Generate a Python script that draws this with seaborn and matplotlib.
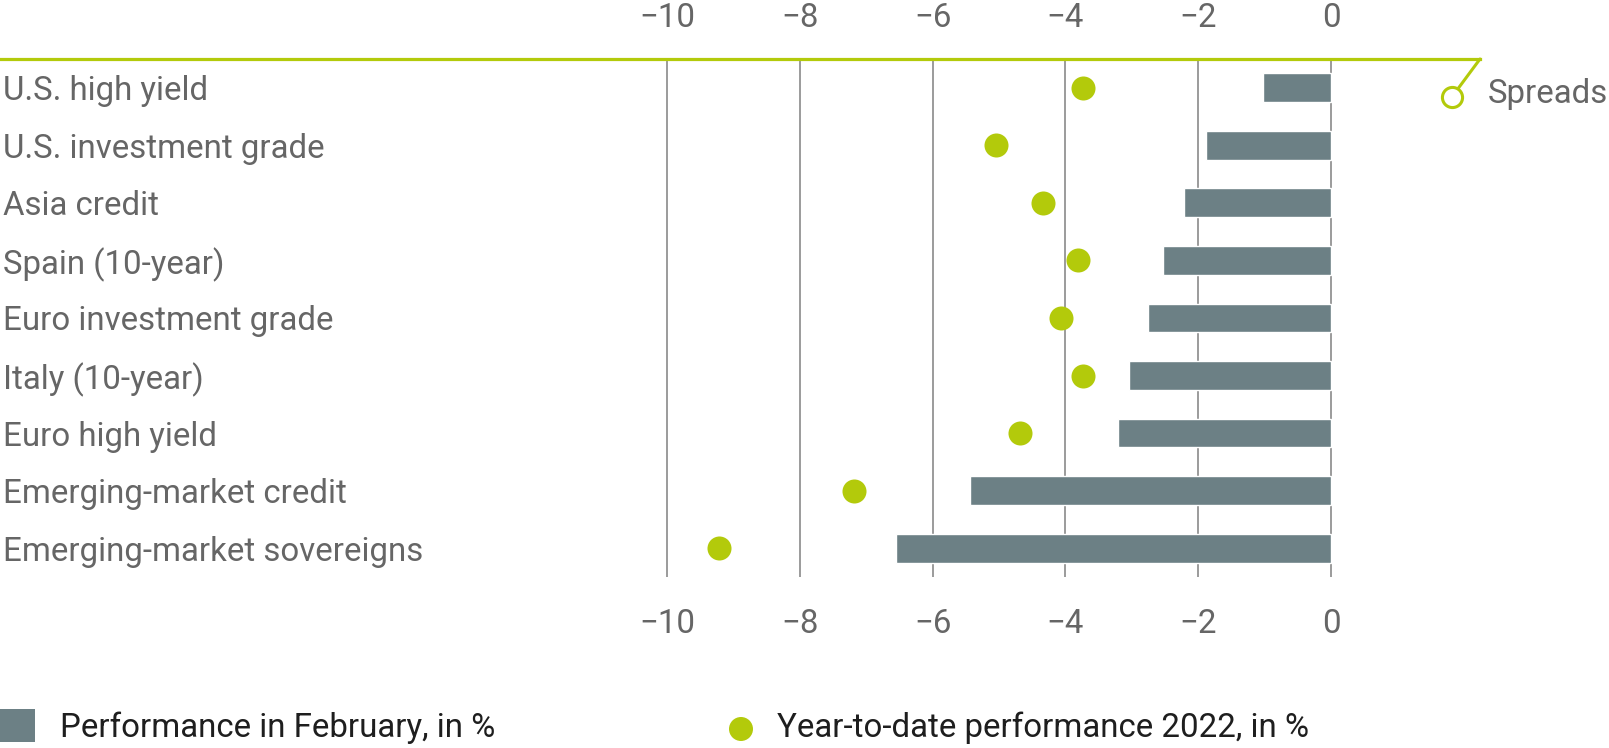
import pandas as pd
import numpy as np
import seaborn as sns
import matplotlib.pyplot as plt
from matplotlib.patches import Rectangle, Ellipse

# data
categories = ["U.S. high yield", "U.S. investment grade", "Asia credit", "Spain (10-year)",
              "Euro investment grade", "Italy (10-year)", "Euro high yield",
              "Emerging-market credit", "Emerging-market sovereigns"]
feb_perf = [-1.03, -1.89, -2.21, -2.53, -2.75, -3.04, -3.21, -5.43, -6.55]
ytd_perf = [-3.74, -5.04, -4.34, -3.81, -4.06, -3.74, -4.68, -7.19, -9.21]
tick_values = [-10, -8, -6, -4, -2, 0]
tick_labels = ["\u221210", "\u22128", "\u22126", "\u22124", "\u22122", "0"]

GREEN = "#b3ca0b"
BAR = "#6c8085"
GRID = "#808080"
TXT = "#666666"

df = pd.DataFrame({"category": categories, "feb": feb_perf, "ytd": ytd_perf})

sns.set_theme(style="white")
plt.rcParams["font.family"] = ["Roboto", "DejaVu Sans"]
FS = 23.8

W, H = 1609, 748
fig = plt.figure(figsize=(W / 100, H / 100), dpi=100)
ax = fig.add_axes([0, 1 - 577 / H, 1480 / W, (577 - 59) / H])

#%%
sns.barplot(data=df, x="feb", y="category", orient="h", color=BAR, width=0.5,
            saturation=1, ax=ax, zorder=2)
sns.stripplot(data=df, x="ytd", y="category", orient="h", color=GREEN, size=17.3,
              jitter=False, linewidth=0, ax=ax, zorder=3)

# x scale: -10 at px 667, 0 at px 1331
unit = (1331 - 667) / 10
ax.set_xlim(-10 - 667 / unit, (1480 - 1331) / unit)
ax.set_ylim(len(categories) - 0.5, -0.5)
ax.set_xlabel("")
ax.set_ylabel("")

ax.set_xticks(tick_values)
ax.set_xticklabels(tick_labels)
ax.tick_params(axis="x", length=0, pad=22, labelsize=FS, labelcolor=TXT)
secax = ax.secondary_xaxis("top")
secax.set_xticks(tick_values)
secax.set_xticklabels(tick_labels)
secax.tick_params(axis="x", length=0, pad=18, labelsize=FS, labelcolor=TXT)
for s in secax.spines.values():
    s.set_visible(False)

ax.tick_params(axis="y", length=0, pad=-2, labelsize=FS, labelcolor=TXT)
for lab in ax.get_yticklabels():
    lab.set_horizontalalignment("left")

ax.set_axisbelow(True)
ax.grid(axis="x", color=GRID, linewidth=1.1)
ax.grid(axis="y", visible=False)
for name, s in ax.spines.items():
    s.set_visible(name == "top")
ax.spines["top"].set_color(GREEN)
ax.spines["top"].set_linewidth(2.3)

#%%
# "Spreads" callout
cx, cy = (1452 - 1331) / unit, (97 - 88) / 57.5
ax.plot([(1480 - 1331) / unit, cx], [-0.5, cy], color=GREEN, lw=2.2,
        clip_on=False, solid_capstyle="round", zorder=4)
ax.plot([cx], [cy], marker="o", markersize=14.5, mfc="white", mec=GREEN, mew=2.2,
        clip_on=False, zorder=5)
fig.text(1488 / W, 1 - 93.5 / H, "Spreads", fontsize=FS, color=TXT, va="center", ha="left")

#%%
# legend
fig.patches.append(Rectangle((0, 1 - 742 / H), 35 / W, 33 / H, transform=fig.transFigure,
                             facecolor=BAR, edgecolor="none"))
fig.text(60 / W, 1 - 737 / H, "Performance in February, in %", fontsize=FS,
         color="#1e1e1e", va="baseline", ha="left")
fig.patches.append(Ellipse((741 / W, 1 - 729 / H), 24 / W, 24 / H, transform=fig.transFigure,
                           facecolor=GREEN, edgecolor="none"))
fig.text(777 / W, 1 - 737 / H, "Year-to-date performance 2022, in %", fontsize=FS,
         color="#1e1e1e", va="baseline", ha="left")

fig.savefig("out.png", dpi=100)
